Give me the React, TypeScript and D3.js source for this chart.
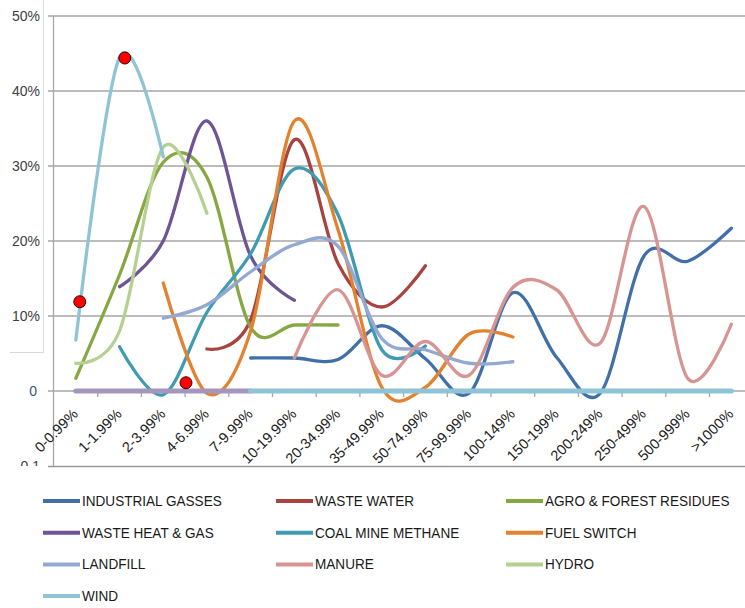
import React from "react";
import * as d3 from "d3";

const categories = ["0-0.99%", "1-1.99%", "2-3.99%", "4-6.99%", "7-9.99%", "10-19.99%", "20-34.99%", "35-49.99%", "50-74.99%", "75-99.99%", "100-149%", "150-199%", "200-249%", "250-499%", "500-999%", ">1000%"];

type V = number | null;
const industrialGasses: V[] = [null, null, null, null, 4.4, 4.4, 4.2, 8.7, 4.3, -0.3, 13.1, 4.5, -0.3, 18, 17.3, 21.7];
const wasteWater: V[] = [null, null, null, 5.6, 9.5, 33.5, 17, 11.2, 16.7];
const agroForest: V[] = [1.7, 15.5, 30.5, 28.5, 8.5, 8.8, 8.8];
const wasteHeat: V[] = [null, 13.9, 20, 36, 18, 12.1];
const coalMine: V[] = [null, 5.9, -0.5, 10.5, 18.3, 29.6, 23.5, 5.5, 6];
const fuelSwitch: V[] = [null, null, 14.4, -0.3, 8, 36, 21.5, 0.5, 0.5, 7.6, 7.2];
const landfill: V[] = [null, null, 9.7, 11.5, 15.9, 19.5, 19.3, 7, 5.5, 3.7, 3.9];
const manure: V[] = [null, null, null, null, null, 4.4, 13.5, 2.1, 6.6, 2.1, 13.8, 13.5, 6.4, 24.6, 1.7, 8.9];
const hydro: V[] = [3.7, 8, 32.5, 23.7];
const wind: V[] = [6.8, 44.5, 31.2];

// thick zero bands on the axis
const zeroBandHeat: V[] = [0, 0, 0, 0, 0];
const zeroBandWind: V[] = [null, null, null, null, 0, 0, 0, 0, 0, 0, 0, 0, 0, 0, 0, 0];

const seriesNames = ["INDUSTRIAL GASSES", "WASTE WATER", "AGRO & FOREST RESIDUES", "WASTE HEAT & GAS", "COAL MINE METHANE", "FUEL SWITCH", "LANDFILL", "MANURE", "HYDRO", "WIND"];
const seriesData = [industrialGasses, wasteWater, agroForest, wasteHeat, coalMine, fuelSwitch, landfill, manure, hydro, wind];
const seriesColors = ["#4170A8", "#A9433F", "#86A843", "#6E5494", "#3E9BB2", "#E2822F", "#93A9D1", "#D79491", "#B5D090", "#8FC4D7"];

const yTicks = [50, 40, 30, 20, 10, 0, -10];
const yTickLabels = ["50%", "40%", "30%", "20%", "10%", "0", "-0.1"];

const markerPos = [0.09, 1.12, 2.52];
const markerVal = [11.9, 44.4, 1.1];

export default function App() {
  const W = 745, H = 608;
  const x = d3.scaleLinear().domain([-0.5, 15.5]).range([54, 753.2]);
  const y = d3.scaleLinear().domain([-10, 50]).range([466, 16]);
  const line = d3
    .line<V>()
    .defined((v) => v != null)
    .x((_, i) => x(i))
    .y((v) => y(v as number))
    .curve(d3.curveCatmullRom.alpha(0));

  const grid = "#a6a6a6";
  return (
    <svg width={W} height={H} style={{ position: "absolute", left: 0, top: 0, background: "#fff" }} fontFamily="'Liberation Sans', Arial, sans-serif">
      <defs>
        <clipPath id="plotclip">
          <rect x={0} y={0} width={W} height={466} />
        </clipPath>
      </defs>
      <rect width={W} height={H} fill="#fff" />
      {/* stray frame */}
      <path d="M43.5,0 V352.5 H10" fill="none" stroke="#d9d9d9" strokeWidth={1} />
      {/* gridlines */}
      {yTicks.filter((t) => t > 0).map((t) => (
        <line key={t} x1={48} x2={W} y1={y(t)} y2={y(t)} stroke={grid} strokeWidth={1.3} />
      ))}
      <line x1={48} x2={W} y1={y(0)} y2={y(0)} stroke={grid} strokeWidth={1.3} />
      <line x1={53.5} x2={53.5} y1={y(50)} y2={466} stroke={grid} strokeWidth={1.3} />
      <line x1={48} x2={W} y1={466.5} y2={466.5} stroke="#999" strokeWidth={1.3} />
      {categories.slice(1).map((_, i) => (
        <line key={i} x1={x(i + 0.5)} x2={x(i + 0.5)} y1={y(0)} y2={y(0) + 6} stroke={grid} strokeWidth={1.3} />
      ))}
      {/* y labels */}
      <g clipPath="url(#plotclip)">
        {yTicks.map((t, i) => (
          <text key={t} x={t === 0 ? 37 : 40} y={y(t)} dy="0.35em" textAnchor="end" fontSize={14} fill={t === 0 ? "#35577f" : "#404040"}>
            {yTickLabels[i]}
          </text>
        ))}
      </g>
      {/* x labels */}
      {categories.map((c, i) => (
        <text key={c} transform={`translate(${x(i) + 3},${415}) rotate(-45)`} textAnchor="end" fontSize={14.5} fill="#222">
          {c}
        </text>
      ))}
      {/* series */}
      {seriesData.map((s, k) => (
        <path key={k} d={line(s) || ""} fill="none" stroke={seriesColors[k]} strokeWidth={3.3} strokeLinecap="round" strokeLinejoin="round" />
      ))}
      <path d={line(zeroBandHeat) || ""} fill="none" stroke="#A596BE" strokeWidth={5} strokeLinecap="round" />
      <path d={line(zeroBandWind) || ""} fill="none" stroke={seriesColors[9]} strokeWidth={5} strokeLinecap="round" />
      {/* markers */}
      {markerPos.map((p, i) => (
        <circle key={i} cx={x(p)} cy={y(markerVal[i])} r={6} fill="#ff0000" stroke="#3a0000" strokeWidth={1} />
      ))}
      {/* legend */}
      {seriesNames.map((n, i) => {
        const col = i % 3;
        const row = Math.floor(i / 3);
        const lx = [43, 276, 506][col];
        const ly = 501 + row * 31.7;
        return (
          <g key={n}>
            <line x1={lx} x2={lx + 37} y1={ly} y2={ly} stroke={seriesColors[i]} strokeWidth={4} />
            <text x={lx + 39} y={ly} dy="0.36em" fontSize={14} fill="#1a1a1a" transform={`translate(${lx + 39},0) scale(0.97,1) translate(${-(lx + 39)},0)`}>
              {n}
            </text>
          </g>
        );
      })}
    </svg>
  );
}
